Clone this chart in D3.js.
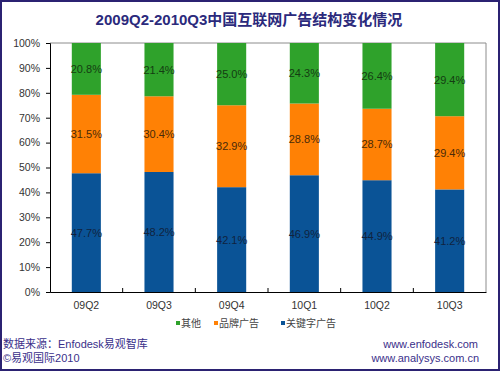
<!DOCTYPE html>
<html>
<head>
    <meta charset="utf-8">
    <script src="https://d3js.org/d3.v7.min.js"></script>
    <style>
        body { margin: 0; background: #fff; }
        svg { display: block; }
        text { font-family: "Liberation Sans", Arial, "Noto Sans CJK SC", sans-serif; }
    </style>
</head>
<body>
<script>
    /* chart data */
    var quarters = ["09Q2", "09Q3", "09Q4", "10Q1", "10Q2", "10Q3"];
    var keywordAds = [47.7, 48.2, 42.1, 46.9, 44.9, 41.2];   // 关键字广告
    var brandAds = [31.5, 30.4, 32.9, 28.8, 28.7, 29.4];     // 品牌广告
    var others = [20.8, 21.4, 25.0, 24.3, 26.4, 29.4];       // 其他
    var seriesNames = ["关键字广告", "品牌广告", "其他"];
    var yTicks = [0, 10, 20, 30, 40, 50, 60, 70, 80, 90, 100];

    var width = 500, height = 371;
    var plot = {left: 50, right: 486, top: 43, bottom: 292};
    var colors = {"关键字广告": "#0a5396", "品牌广告": "#ff8105", "其他": "#2fa22b"};
    var labelColors = {"关键字广告": "#10233f", "品牌广告": "#4a2a08", "其他": "#143d12"};

    var svg = d3.select("body").append("svg")
        .attr("width", width).attr("height", height);

    svg.append("rect")
        .attr("x", 1).attr("y", 1)
        .attr("width", width - 2).attr("height", height - 2)
        .attr("fill", "#fff").attr("stroke", "#2b2272").attr("stroke-width", 2);

    // title
    svg.append("text")
        .attr("x", 249).attr("y", 25)
        .attr("text-anchor", "middle")
        .style("font-size", "15px").style("font-weight", "bold")
        .attr("fill", "#2b2a7c")
        .text("2009Q2-2010Q3中国互联网广告结构变化情况");

    var table = quarters.map(function (q, i) {
        return {quarter: q, "关键字广告": keywordAds[i], "品牌广告": brandAds[i], "其他": others[i]};
    });
    var stacked = d3.stack().keys(seriesNames)(table);

    var x = d3.scaleBand().domain(quarters)
        .range([plot.left, plot.right]).paddingInner(0.6).paddingOuter(0.3);
    var xEdge = d3.scaleBand().domain(quarters).range([plot.left, plot.right]);
    var y = d3.scaleLinear().domain([0, 100]).range([plot.bottom, plot.top]);

    // plot frame (top and right in grey)
    svg.append("path")
        .attr("d", "M" + plot.left + "," + plot.top + "H" + plot.right + "V" + plot.bottom)
        .attr("fill", "none").attr("stroke", "#8c8c8c").attr("stroke-width", 1);

    // bars
    var groups = svg.selectAll("g.series").data(stacked).enter()
        .append("g").attr("class", "series")
        .attr("fill", function (d) { return colors[d.key]; });

    groups.selectAll("rect").data(function (d) { return d; }).enter()
        .append("rect")
        .attr("x", function (d) { return x(d.data.quarter); })
        .attr("width", x.bandwidth())
        .attr("y", function (d) { return y(d[1]); })
        .attr("height", function (d) { return y(d[0]) - y(d[1]); });

    // value labels
    stacked.forEach(function (s) {
        svg.append("g").selectAll("text").data(s).enter()
            .append("text")
            .attr("x", function (d) { return x(d.data.quarter) + x.bandwidth() / 2; })
            .attr("y", function (d) { return (y(d[0]) + y(d[1])) / 2 + 4; })
            .attr("text-anchor", "middle")
            .style("font-size", "11px")
            .attr("fill", labelColors[s.key])
            .text(function (d) { return d.data[s.key].toFixed(1) + "%"; });
    });

    // y axis
    var yAxis = svg.append("g")
        .attr("transform", "translate(" + plot.left + ",0)")
        .call(d3.axisLeft(y).tickValues(yTicks).tickSize(4).tickPadding(6)
            .tickFormat(function (d) { return d + "%"; }));
    yAxis.select(".domain").attr("stroke", "#000");
    yAxis.selectAll("line").attr("stroke", "#000");
    yAxis.selectAll("text").style("font-size", "10.5px").attr("fill", "#333")
        .style("font-family", "\"Liberation Sans\", Arial, sans-serif");

    // x axis
    var xAxis = svg.append("g")
        .attr("transform", "translate(0," + plot.bottom + ")")
        .call(d3.axisBottom(xEdge).tickSize(0).tickPadding(10));
    xAxis.select(".domain").attr("stroke", "#000");
    xAxis.selectAll("text").style("font-size", "10.5px").attr("fill", "#333")
        .style("font-family", "\"Liberation Sans\", Arial, sans-serif");
    xAxis.selectAll("line.sep").data(quarters.slice(1)).enter()
        .append("line").attr("class", "sep")
        .attr("x1", function (d) { return xEdge(d); })
        .attr("x2", function (d) { return xEdge(d); })
        .attr("y1", 0).attr("y2", -4)
        .attr("stroke", "#000");

    // legend
    var legendItems = [
        {name: "其他", x: 176},
        {name: "品牌广告", x: 214},
        {name: "关键字广告", x: 281}
    ];
    var legend = svg.append("g");
    legendItems.forEach(function (it) {
        legend.append("rect")
            .attr("x", it.x).attr("y", 321)
            .attr("width", 4).attr("height", 4)
            .attr("fill", colors[it.name]);
        legend.append("text")
            .attr("x", it.x + 5).attr("y", 327)
            .style("font-size", "10px").attr("fill", "#444")
            .text(it.name);
    });

    // footer
    var footColor = "#3a2f8a";
    svg.append("text").attr("x", 3).attr("y", 348)
        .style("font-size", "11px").attr("fill", footColor)
        .text("数据来源：Enfodesk易观智库");
    svg.append("text").attr("x", 3).attr("y", 362)
        .style("font-size", "11px").attr("fill", footColor)
        .text("©易观国际2010");
    svg.append("text").attr("x", 478).attr("y", 348)
        .attr("text-anchor", "end")
        .style("font-size", "11px").attr("fill", footColor)
        .text("www.enfodesk.com");
    svg.append("text").attr("x", 479).attr("y", 362)
        .attr("text-anchor", "end")
        .style("font-size", "11px").attr("fill", footColor)
        .text("www.analysys.com.cn");
</script>
</body>
</html>
